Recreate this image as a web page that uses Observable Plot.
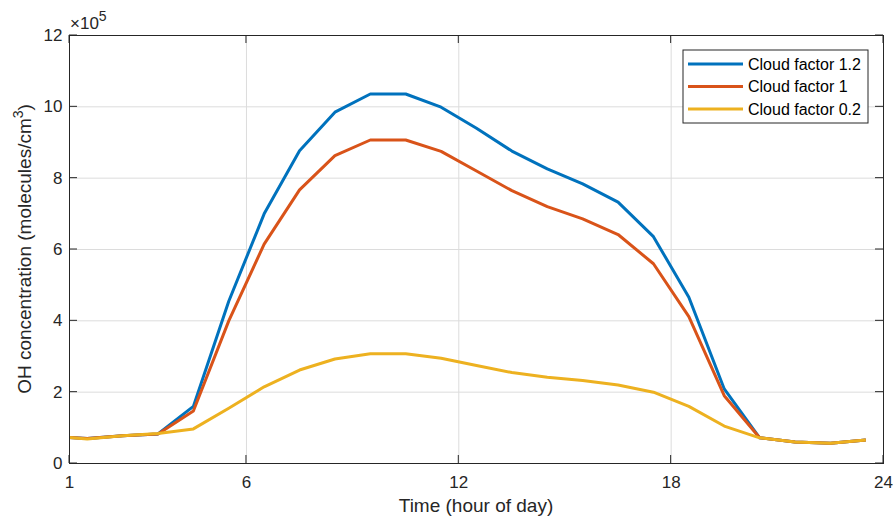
<!DOCTYPE html>
<html>
<head>
<meta charset="utf-8">
<script src="https://cdn.jsdelivr.net/npm/d3@7"></script>
<script src="https://cdn.jsdelivr.net/npm/@observablehq/plot@0.6"></script>
<style>
  html, body { margin: 0; padding: 0; background: #fff; }
  #chart { width: 895px; height: 519px; }
</style>
</head>
<body>
<div id="chart"></div>
<script>
// ---- data (values in units of 1e5 molecules/cm^3) ----
const hours = [1, 1.5, 2.5, 3.5, 4.5, 5.5, 6.5, 7.5, 8.5, 9.5, 10.5, 11.5, 12.5, 13.5, 14.5, 15.5, 16.5, 17.5, 18.5, 19.5, 20.5, 21.5, 22.5, 23.5];
const cloud12 = [0.73, 0.70, 0.78, 0.83, 1.60, 4.55, 7.00, 8.77, 9.85, 10.36, 10.36, 9.99, 9.40, 8.76, 8.26, 7.84, 7.33, 6.36, 4.66, 2.09, 0.72, 0.60, 0.57, 0.66];
const cloud10 = [0.73, 0.70, 0.78, 0.83, 1.47, 4.00, 6.15, 7.67, 8.63, 9.07, 9.07, 8.75, 8.20, 7.65, 7.20, 6.86, 6.42, 5.60, 4.12, 1.90, 0.72, 0.60, 0.57, 0.66];
const cloud02 = [0.73, 0.69, 0.78, 0.84, 0.97, 1.55, 2.15, 2.62, 2.93, 3.08, 3.08, 2.95, 2.75, 2.55, 2.42, 2.33, 2.20, 2.00, 1.60, 1.05, 0.72, 0.60, 0.57, 0.66];
const seriesNames = ["Cloud factor 1.2", "Cloud factor 1", "Cloud factor 0.2"];
const seriesColors = ["#0072BD", "#D95319", "#EDB120"];
const xTicks = [1, 6, 12, 18, 24];
const yTicks = [0, 2, 4, 6, 8, 10, 12];

const seriesValues = [cloud12, cloud10, cloud02];
const rows = [];
seriesValues.forEach((vals, si) => {
  vals.forEach((v, i) => rows.push({ hour: hours[i], value: v, series: seriesNames[si] }));
});

const axisColor = "#262626";
const font = "'Liberation Sans', Arial, Helvetica, sans-serif";

const chart = Plot.plot({
  width: 895,
  height: 519,
  marginLeft: 69,
  marginRight: 12,
  marginTop: 35,
  marginBottom: 56,
  style: { fontFamily: font, fontSize: "17px", color: axisColor, background: "#fff" },
  x: { domain: [1, 24] },
  y: { domain: [0, 12] },
  color: { domain: seriesNames, range: seriesColors },
  marks: [
    Plot.gridX(xTicks.slice(1, -1), { stroke: "#dcdcdc", strokeOpacity: 1 }),
    Plot.gridY(yTicks.slice(1, -1), { stroke: "#dcdcdc", strokeOpacity: 1 }),
    Plot.axisX(xTicks, { tickSize: 0, tickPadding: 12, fill: axisColor, label: null }),
    Plot.axisY(yTicks, { tickSize: 0, tickPadding: 7, fill: axisColor, label: null }),
    Plot.line(rows, { x: "hour", y: "value", z: "series", stroke: "series", strokeWidth: 3, strokeLinejoin: "round", strokeLinecap: "butt" }),
    Plot.frame({ stroke: axisColor, strokeWidth: 1 })
  ]
});

document.getElementById("chart").appendChild(chart);

const svg = d3.select(chart);
svg.attr("font-size", 17);
svg.selectAll("g[aria-label$='tick label']").attr("font-size", 17).selectAll("text").attr("font-size", 17);

// ---- inward ticks, labels, legend, using the chart's scales ----
const sx = chart.scale("x");
const sy = chart.scale("y");
const x0 = sx.apply(1), x1 = sx.apply(24);
const y0 = sy.apply(0), y1 = sy.apply(12);
const tl = 8;
const g = svg.append("g").attr("stroke", axisColor).attr("stroke-width", 1);
xTicks.forEach(t => {
  const px = sx.apply(t);
  g.append("line").attr("x1", px).attr("x2", px).attr("y1", y0).attr("y2", y0 - tl);
  g.append("line").attr("x1", px).attr("x2", px).attr("y1", y1).attr("y2", y1 + tl);
});
yTicks.forEach(t => {
  const py = sy.apply(t);
  g.append("line").attr("x1", x0).attr("x2", x0 + tl).attr("y1", py).attr("y2", py);
  g.append("line").attr("x1", x1).attr("x2", x1 - tl).attr("y1", py).attr("y2", py);
});

// exponent label
const ex = svg.append("text").attr("x", x0 + 1).attr("y", y1 - 6)
  .attr("text-anchor", "start")
  .attr("font-family", font).attr("font-size", 17).attr("fill", axisColor);
ex.append("tspan").text("×10");
ex.append("tspan").attr("dy", -8).attr("font-size", 14).text("5");

// x axis label
svg.append("text").attr("x", (x0 + x1) / 2).attr("y", 512)
  .attr("text-anchor", "middle").attr("font-family", font).attr("font-size", 19)
  .attr("fill", axisColor).text("Time (hour of day)");

// y axis label
const yl = svg.append("text")
  .attr("transform", `translate(31,${(y0 + y1) / 2}) rotate(-90)`)
  .attr("text-anchor", "middle").attr("font-family", font).attr("font-size", 19)
  .attr("fill", axisColor);
yl.append("tspan").text("OH concentration (molecules/cm");
yl.append("tspan").attr("dy", -8).attr("font-size", 14).text("3");
yl.append("tspan").attr("dy", 8).text(")");

// legend
const lg = svg.append("g");
lg.append("rect").attr("x", 683).attr("y", 50).attr("width", 185).attr("height", 73)
  .attr("fill", "#fff").attr("stroke", axisColor).attr("stroke-width", 1);
seriesNames.forEach((name, i) => {
  const cy = 64 + i * 22.5;
  lg.append("line").attr("x1", 688).attr("x2", 743).attr("y1", cy).attr("y2", cy)
    .attr("stroke", seriesColors[i]).attr("stroke-width", 3);
  lg.append("text").attr("x", 748).attr("y", cy + 5.5).attr("text-anchor", "start")
    .attr("font-family", font).attr("font-size", 16).attr("fill", "#000").text(name);
});
</script>
</body>
</html>
